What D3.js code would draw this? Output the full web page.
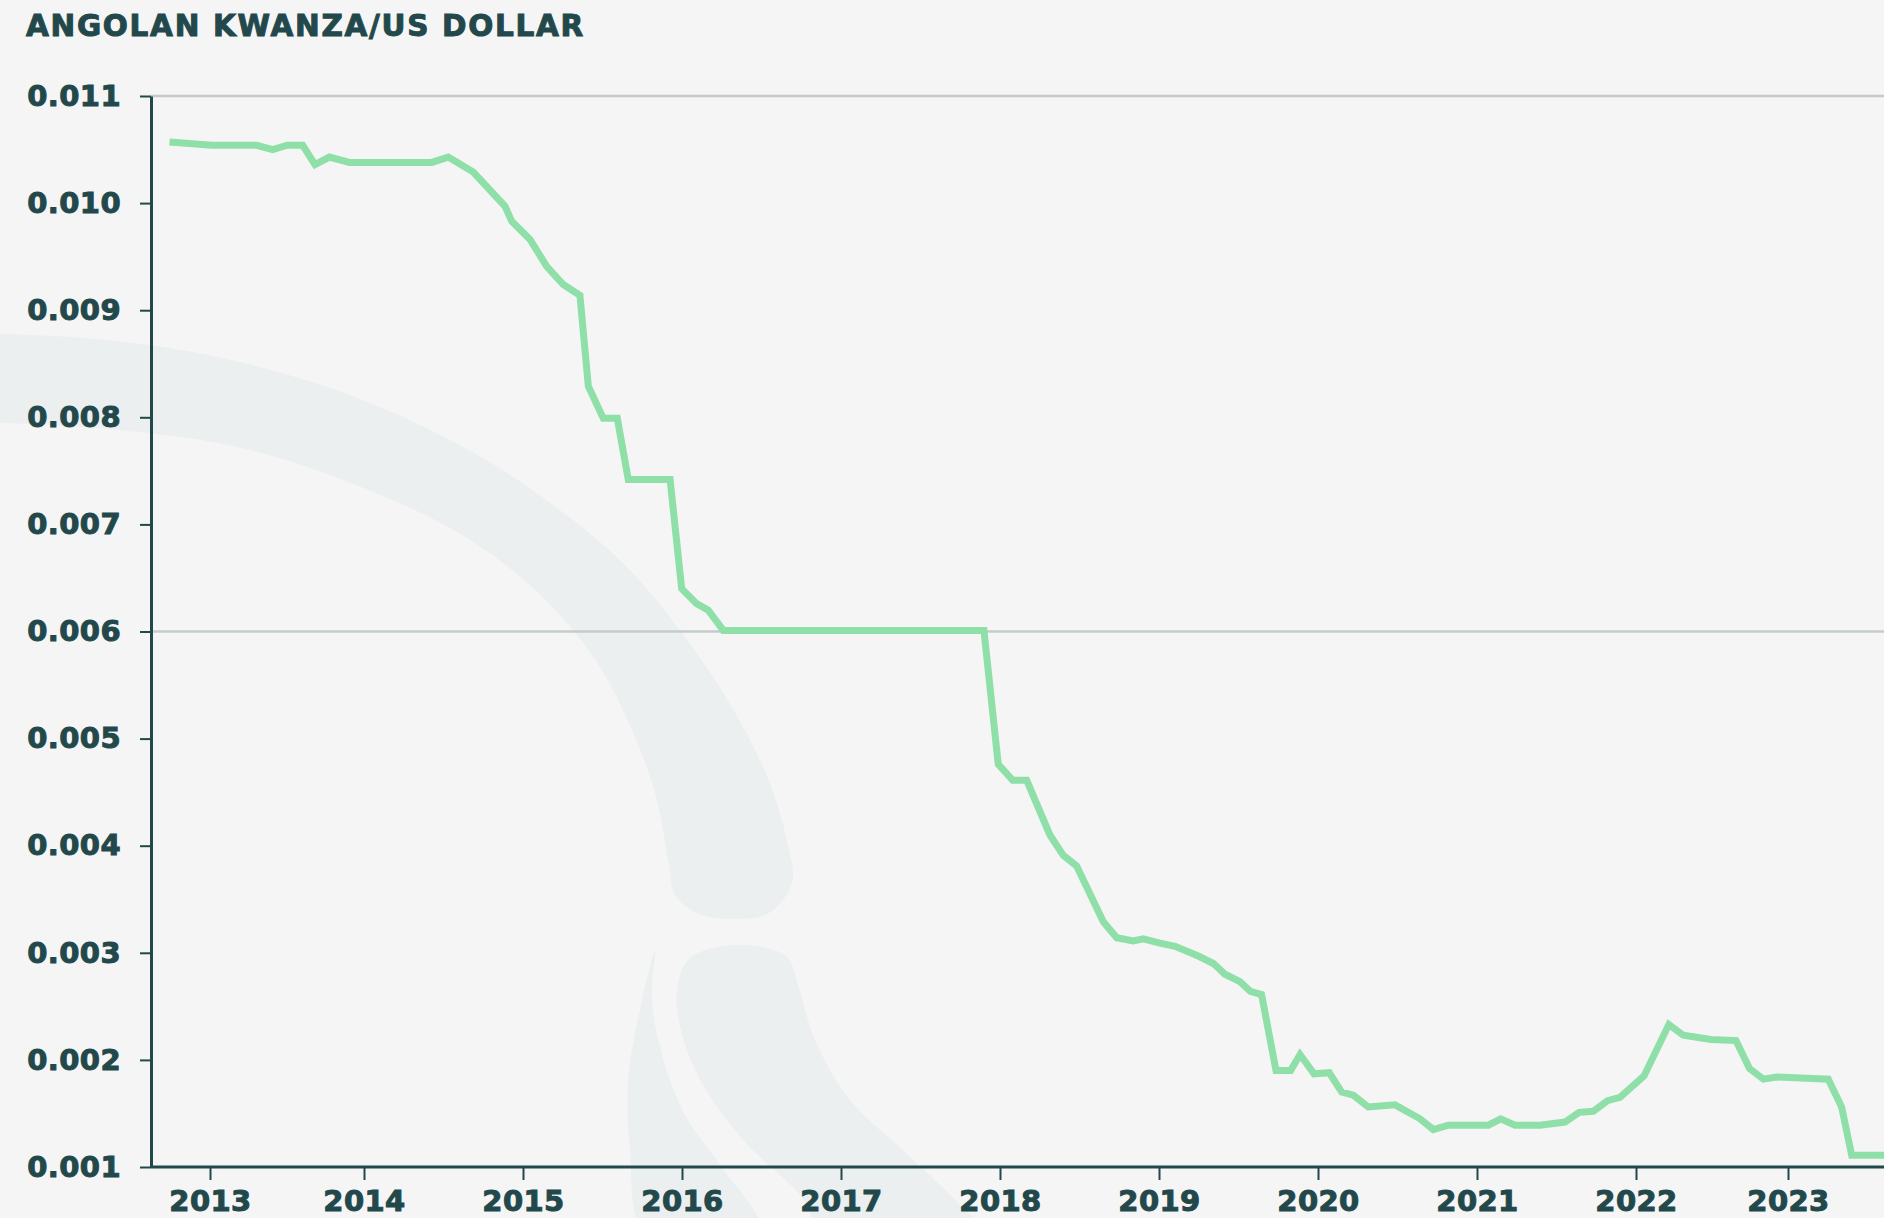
<!DOCTYPE html>
<html>
<head>
<meta charset="utf-8">
<script src="https://cdnjs.cloudflare.com/ajax/libs/d3/7.8.5/d3.min.js"></script>
<style>
    html, body { margin: 0; padding: 0; background: #f5f5f5; overflow: hidden; }
    svg { display: block; }
</style>
</head>
<body>
<script>
"use strict";

// kwanza per dollar (decimal year, rate)
var years = [
    2012.737, 2013.011, 2013.303, 2013.407, 2013.502, 2013.602, 2013.682, 2013.775, 2013.905,
    2014.426, 2014.530, 2014.687, 2014.887, 2014.929, 2015.044, 2015.149, 2015.253, 2015.358,
    2015.411, 2015.505, 2015.593, 2015.662, 2015.925, 2015.998, 2016.092, 2016.165, 2016.260,
    2017.899, 2017.989, 2018.080, 2018.168, 2018.314, 2018.398, 2018.482, 2018.650, 2018.734,
    2018.838, 2018.901, 2019.006, 2019.101, 2019.247, 2019.342, 2019.415, 2019.509, 2019.575,
    2019.645, 2019.736, 2019.828, 2019.887, 2019.975, 2020.071, 2020.149, 2020.222, 2020.316,
    2020.484, 2020.642, 2020.725, 2020.820, 2021.071, 2021.149, 2021.239, 2021.396, 2021.553,
    2021.642, 2021.731, 2021.821, 2021.899, 2022.053, 2022.216, 2022.311, 2022.493, 2022.658,
    2022.747, 2022.838, 2022.926, 2023.265, 2023.353, 2023.419, 2023.700
];

var rates = [
    0.01057, 0.01054, 0.01054, 0.01050, 0.01054, 0.01054, 0.01036, 0.01043, 0.01038,
    0.01038, 0.01043, 0.01029, 0.00997, 0.00983, 0.00966, 0.00941, 0.00924, 0.00914,
    0.00829, 0.00799, 0.00799, 0.00742, 0.00742, 0.00640, 0.00626, 0.00620, 0.00601,
    0.00601, 0.00476, 0.00461, 0.00461, 0.00410, 0.00391, 0.00381, 0.00329, 0.00314,
    0.00311, 0.00313, 0.00309, 0.00306, 0.00297, 0.00290, 0.00280, 0.00273, 0.00264,
    0.00261, 0.00190, 0.00190, 0.00205, 0.00187, 0.00188, 0.00170, 0.00167, 0.00156,
    0.00158, 0.00145, 0.00135, 0.00139, 0.00139, 0.00145, 0.00139, 0.00139, 0.00142,
    0.00151, 0.00152, 0.00162, 0.00165, 0.00185, 0.00233, 0.00223, 0.00219, 0.00218,
    0.00192, 0.00182, 0.00184, 0.00182, 0.00156, 0.00111, 0.00111
];

var yearTicks = [2013, 2014, 2015, 2016, 2017, 2018, 2019, 2020, 2021, 2022, 2023];
var rateTicks = [0.001, 0.002, 0.003, 0.004, 0.005, 0.006, 0.007, 0.008, 0.009, 0.010, 0.011];
var gridTicks = [0.006, 0.011];

var title = "ANGOLAN KWANZA/US DOLLAR";

var width = 1884,
    height = 1218;

var ink = "#23484b",
    green = "#8fdfa8",
    font = "'DejaVu Sans', sans-serif";

var axisX = 151,
    bottom = 1167;

var xScale = d3.scaleLinear()
               .domain([2013, 2014, 2022, 2023])
               .range([210, 364, 1636, 1788]);

var yScale = d3.scaleLinear()
               .domain([0.001, 0.011])
               .range([bottom, 96]);

var svg = d3.select("body").append("svg")
    .attr("width", width)
    .attr("height", height)
    .style("background-color", "#f5f5f5");

// faint watermark shapes in the background
var decor = [
    [[-40, 334], [0, 334], [96, 339], [204, 354], [312, 382], [396, 414], [481, 457], [553, 505],
     [625, 565], [685, 637], [733, 709], [769, 781], [787, 841], [792, 883], [769, 913], [733, 919],
     [697, 913], [675, 895], [669, 865], [655, 793], [628, 721], [592, 655], [534, 589], [462, 535],
     [366, 489], [246, 449], [120, 430], [0, 423], [-40, 423]],
    [[655, 950], [640, 1010], [628, 1080], [630, 1150], [645, 1230], [760, 1230], [720, 1165],
     [685, 1115], [662, 1055], [652, 1000]],
    [[677, 990], [690, 958], [735, 945], [786, 956], [798, 985], [815, 1040], [850, 1100],
     [905, 1152], [960, 1205], [990, 1240], [830, 1240], [800, 1195], [746, 1143], [706, 1090],
     [683, 1038]]
];

svg.selectAll("path.decor")
    .data(decor)
    .enter().append("path")
        .classed("decor", true)
        .attr("d", d3.line().curve(d3.curveCatmullRomClosed.alpha(0.5)))
        .style("fill", "#ecefef");

// title
svg.append("text")
    .attr("x", 26)
    .attr("y", 36)
    .style("font-family", font)
    .style("font-weight", "bold")
    .style("font-size", "29.5px")
    .style("letter-spacing", "1.7px")
    .style("fill", ink)
    .style("stroke", ink)
    .style("stroke-width", 1)
    .text(title);

// grid lines
svg.selectAll("line.grid")
    .data(gridTicks)
    .enter().append("line")
        .classed("grid", true)
        .attr("x1", axisX)
        .attr("x2", width)
        .attr("y1", function(d) { return yScale(d); })
        .attr("y2", function(d) { return yScale(d); })
        .style("stroke", "#c4cbcb")
        .style("stroke-width", 2.5);

// y axis
var yAxis = svg.append("g")
    .attr("transform", "translate(" + axisX + ",0)")
    .call(d3.axisLeft(yScale)
        .tickValues(rateTicks)
        .tickFormat(d3.format(".3f"))
        .tickSize(11)
        .tickSizeOuter(0)
        .tickPadding(19));

// x axis
var xAxis = svg.append("g")
    .attr("transform", "translate(0," + bottom + ")")
    .call(d3.axisBottom(xScale)
        .tickValues(yearTicks)
        .tickFormat(d3.format("d"))
        .tickSize(13)
        .tickSizeOuter(0)
        .tickPadding(10));

xAxis.select(".domain").remove();
xAxis.append("line")
    .attr("x1", axisX)
    .attr("x2", width)
    .style("stroke", ink)
    .style("stroke-width", 3);

[xAxis, yAxis].forEach(function(g) {
    g.selectAll(".tick line")
        .style("stroke", ink)
        .style("stroke-width", 2);
    g.selectAll(".tick text")
        .style("font-family", font)
        .style("font-weight", "bold")
        .style("font-size", "29px")
        .style("letter-spacing", "0.4px")
        .style("fill", ink)
        .style("stroke", ink)
        .style("stroke-width", 1);
});

yAxis.select(".domain")
    .style("stroke", ink)
    .style("stroke-width", 3);

// the rate line
var points = years.map(function(y, i) {
    return { year: y, rate: rates[i] };
});

var line = d3.line()
    .x(function(d) { return xScale(d.year); })
    .y(function(d) { return yScale(d.rate); });

svg.append("path")
    .datum(points)
    .attr("d", line)
    .style("fill", "none")
    .style("stroke", green)
    .style("stroke-width", 7);
</script>
</body>
</html>
